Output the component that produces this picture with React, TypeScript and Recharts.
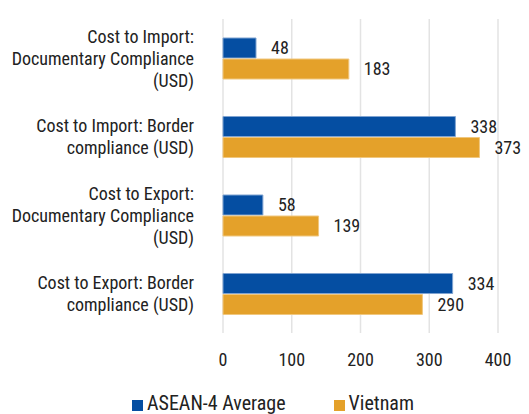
import { BarChart, Bar, XAxis, YAxis, CartesianGrid, Legend, LabelList } from "recharts";

const categories = [
  "Cost to Import: Documentary Compliance (USD)",
  "Cost to Import: Border compliance (USD)",
  "Cost to Export: Documentary Compliance (USD)",
  "Cost to Export: Border compliance (USD)",
];
const categoryLines = [
  ["Cost to Import:", "Documentary Compliance", "(USD)"],
  ["Cost to Import: Border", "compliance (USD)"],
  ["Cost to Export:", "Documentary Compliance", "(USD)"],
  ["Cost to Export: Border", "compliance (USD)"],
];
const asean4 = [48, 338, 58, 334];
const vietnam = [183, 373, 139, 290];
const xTicks = [0, 100, 200, 300, 400];

const FONT = "'Liberation Sans Narrow', 'Roboto Condensed', 'Arial Narrow', Roboto, sans-serif";
const BLUE = "#054ea2";
const ORANGE = "#e4a12a";

const data = categories.map((c, i) => ({ name: c, asean: asean4[i], vn: vietnam[i] }));

function CategoryTick({ x, y, index }: any) {
  const lines = categoryLines[index] || [];
  const lh = 22;
  const start = -((lines.length - 1) * lh) / 2;
  return (
    <text x={x} y={y} textAnchor="end" fontFamily={FONT} fontSize={18} fill="#222">
      {lines.map((l, i) => (
        <tspan key={i} x={x} y={y + start + i * lh} dy="0.36em">
          {l}
        </tspan>
      ))}
    </text>
  );
}

function LegendContent() {
  const items = [
    { label: "ASEAN-4 Average", color: BLUE },
    { label: "Vietnam", color: ORANGE },
  ];
  return (
    <div style={{ display: "flex", gap: 48, fontFamily: FONT, fontSize: 20, lineHeight: "22px", color: "#222", paddingLeft: 132 }}>
      {items.map((it) => (
        <span key={it.label} style={{ display: "flex", alignItems: "center" }}>
          <span style={{ width: 11, height: 11, background: it.color, display: "inline-block", marginRight: 4, marginTop: 5 }} />
          {it.label}
        </span>
      ))}
    </div>
  );
}

export default function App() {
  return (
    <div style={{ position: "absolute", left: 0, top: 0, width: 529, height: 414, background: "#fff" }}>
      <BarChart
        width={529}
        height={414}
        data={data}
        layout="vertical"
        margin={{ top: 19, right: 31, bottom: 0, left: 0 }}
        barSize={20}
        barGap={1}
      >
        <CartesianGrid horizontal={false} stroke="#e3e3e3" strokeWidth={1.5} />
        <XAxis
          type="number"
          domain={[0, 400]}
          ticks={xTicks}
          axisLine={false}
          tickLine={false}
          tickMargin={14}
          height={59}
          tick={{ fontFamily: FONT, fontSize: 18, fill: "#222" }}
        />
        <YAxis
          type="category"
          dataKey="name"
          width={223}
          axisLine={false}
          tickLine={false}
          tickMargin={23}
          tick={<CategoryTick />}
          interval={0}
        />
        <Legend verticalAlign="bottom" align="left" height={22} content={<LegendContent />} />
        <Bar dataKey="asean" name="ASEAN-4 Average" fill={BLUE} stroke="#7fa3d1" strokeWidth={1} isAnimationActive={false}>
          <LabelList dataKey="asean" position="right" offset={15} fill="#222" fontFamily={FONT} fontSize={18} />
        </Bar>
        <Bar dataKey="vn" name="Vietnam" fill={ORANGE} stroke="#f0c77e" strokeWidth={1} isAnimationActive={false}>
          <LabelList dataKey="vn" position="right" offset={15} fill="#222" fontFamily={FONT} fontSize={18} />
        </Bar>
      </BarChart>
    </div>
  );
}
